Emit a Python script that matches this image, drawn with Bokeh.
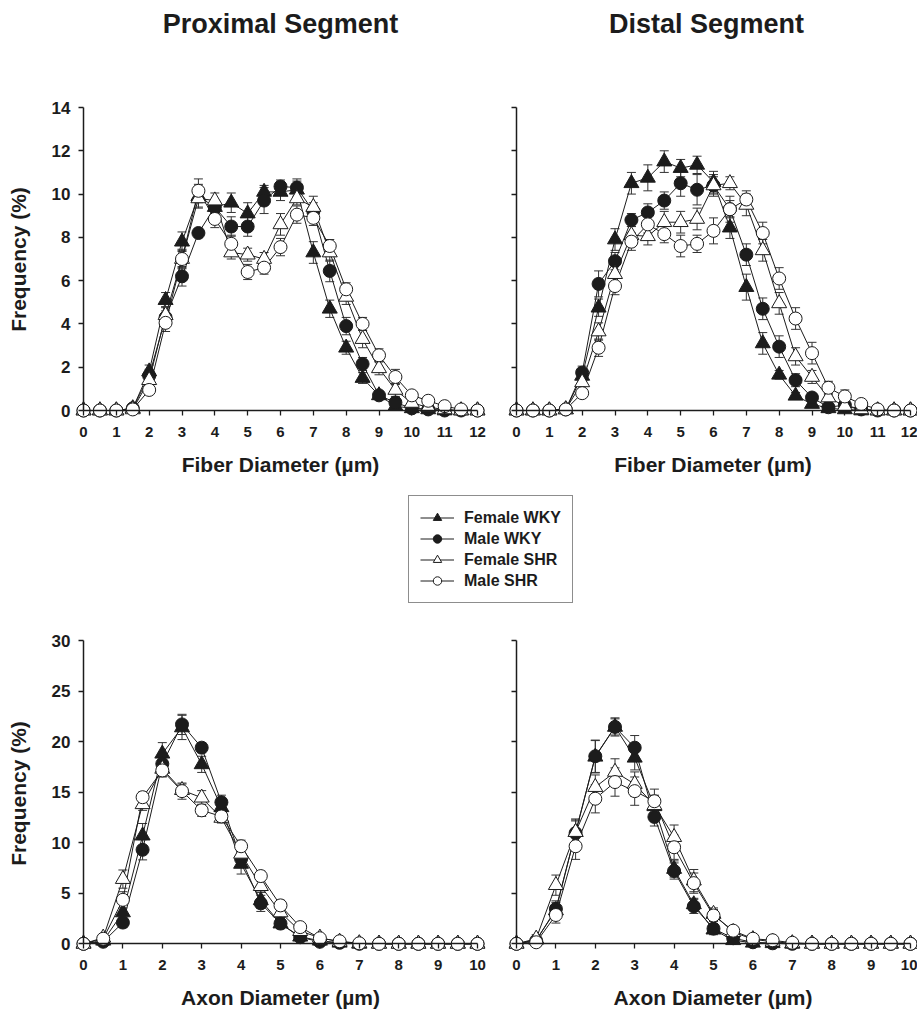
from bokeh.plotting import figure
from bokeh.layouts import column, row
from bokeh.models import LinearAxis, FixedTicker, Range1d, Legend, LegendItem
from bokeh.embed import file_html
from bokeh.resources import INLINE
from bokeh.core.properties import value

# ---------------- data ----------------
titles = ["Proximal Segment", "Distal Segment"]
series_names = ["Female WKY", "Male WKY", "Female SHR", "Male SHR"]
y_label = "Frequency (%)"
fiber_label = "Fiber Diameter (\u00b5m)"
axon_label = "Axon Diameter (\u00b5m)"

fiber_x = [0, 0.5, 1, 1.5, 2, 2.5, 3, 3.5, 4, 4.5, 5, 5.5, 6, 6.5, 7, 7.5, 8, 8.5, 9, 9.5, 10, 10.5, 11, 11.5, 12]
axon_x = [0, 0.5, 1, 1.5, 2, 2.5, 3, 3.5, 4, 4.5, 5, 5.5, 6, 6.5, 7, 7.5, 8, 8.5, 9, 9.5, 10]

fiber_xticks = [0, 1, 2, 3, 4, 5, 6, 7, 8, 9, 10, 11, 12]
fiber_yticks = [0, 2, 4, 6, 8, 10, 12, 14]
axon_xticks = [0, 1, 2, 3, 4, 5, 6, 7, 8, 9, 10]
axon_yticks = [0, 5, 10, 15, 20, 25, 30]

# Proximal fiber
prox_fiber_fwky = [0, 0, 0, 0.1, 1.8, 5.1, 7.8, 9.9, 9.4, 9.6, 9.1, 10.1, 10.1, 10.2, 7.3, 4.7, 2.9, 1.5, 0.7, 0.2, 0.1, 0.05, 0, 0, 0]
prox_fiber_mwky = [0, 0, 0, 0.1, 1.6, 4.3, 6.2, 8.2, 9.4, 8.5, 8.5, 9.7, 10.35, 10.3, 9.2, 6.45, 3.9, 2.15, 0.7, 0.37, 0.1, 0.05, 0, 0, 0]
prox_fiber_fshr = [0, 0, 0, 0.05, 1.4, 4.4, 7.0, 9.8, 9.7, 7.3, 7.2, 7.0, 8.6, 9.8, 9.4, 7.3, 5.25, 3.3, 1.95, 0.95, 0.35, 0.15, 0.05, 0, 0]
prox_fiber_mshr = [0, 0, 0, 0.05, 0.95, 4.05, 7.0, 10.15, 8.85, 7.7, 6.4, 6.6, 7.55, 9.05, 8.9, 7.6, 5.6, 4.0, 2.55, 1.55, 0.7, 0.45, 0.2, 0.05, 0]
prox_fiber_fwky_err = [0, 0, 0, 0.05, 0.3, 0.35, 0.45, 0.55, 0.3, 0.45, 0.5, 0.3, 0.4, 0.4, 0.5, 0.4, 0.3, 0.25, 0.15, 0.1, 0.05, 0.05, 0, 0, 0]
prox_fiber_mwky_err = [0, 0, 0, 0.05, 0.3, 0.3, 0.45, 0.2, 0.25, 0.45, 0.45, 0.6, 0.3, 0.4, 0.4, 0.5, 0.4, 0.3, 0.15, 0.1, 0.05, 0.05, 0, 0, 0]
prox_fiber_fshr_err = [0, 0, 0, 0.05, 0.2, 0.4, 0.4, 0.4, 0.35, 0.3, 0.3, 0.3, 0.5, 0.3, 0.5, 0.4, 0.35, 0.4, 0.3, 0.3, 0.1, 0.05, 0.05, 0, 0]
prox_fiber_mshr_err = [0, 0, 0, 0.05, 0.2, 0.4, 0.45, 0.55, 0.4, 0.4, 0.35, 0.3, 0.4, 0.4, 0.35, 0.3, 0.3, 0.3, 0.3, 0.35, 0.1, 0.05, 0.05, 0, 0]

# Distal fiber
dist_fiber_fwky = [0, 0, 0, 0.05, 1.6, 4.75, 7.9, 10.5, 10.75, 11.5, 11.2, 11.35, 10.55, 8.45, 5.7, 3.1, 1.65, 0.68, 0.3, 0.1, 0.05, 0, 0, 0, 0]
dist_fiber_mwky = [0, 0, 0, 0.05, 1.75, 5.85, 6.9, 8.8, 9.15, 9.7, 10.5, 10.2, 10.4, 9.3, 7.2, 4.7, 2.95, 1.4, 0.6, 0.15, 0.25, 0.05, 0, 0, 0]
dist_fiber_fshr = [0, 0, 0, 0.05, 1.3, 3.65, 6.3, 8.1, 8.05, 8.7, 8.7, 8.85, 10.4, 10.5, 9.5, 7.4, 4.95, 2.5, 1.55, 0.6, 0.2, 0.05, 0, 0, 0]
dist_fiber_mshr = [0, 0, 0, 0.05, 0.8, 2.9, 5.75, 7.8, 8.6, 8.15, 7.6, 7.7, 8.3, 9.3, 9.75, 8.2, 6.1, 4.25, 2.65, 1.05, 0.65, 0.3, 0.05, 0, 0]
dist_fiber_fwky_err = [0, 0, 0, 0.05, 0.3, 0.4, 0.5, 0.5, 0.6, 0.5, 0.4, 0.4, 0.5, 0.5, 0.6, 0.5, 0.2, 0.15, 0.1, 0.05, 0.05, 0, 0, 0, 0]
dist_fiber_mwky_err = [0, 0, 0, 0.05, 0.3, 0.6, 0.4, 0.3, 0.4, 0.4, 0.6, 0.7, 0.4, 0.4, 0.5, 0.5, 0.5, 0.3, 0.2, 0.1, 0.2, 0.05, 0, 0, 0]
dist_fiber_fshr_err = [0, 0, 0, 0.05, 0.3, 0.4, 0.4, 0.4, 0.4, 0.5, 0.5, 0.5, 0.5, 0.3, 0.5, 0.5, 0.5, 0.4, 0.3, 0.2, 0.1, 0.05, 0, 0, 0]
dist_fiber_mshr_err = [0, 0, 0, 0.05, 0.2, 0.4, 0.4, 0.4, 0.4, 0.4, 0.5, 0.4, 0.6, 0.6, 0.4, 0.5, 0.5, 0.5, 0.5, 0.3, 0.3, 0.1, 0.05, 0, 0]

# Proximal axon
prox_axon_fwky = [0, 0.3, 3.1, 10.7, 18.8, 21.4, 17.75, 13.5, 7.9, 4.3, 2.0, 0.7, 0.3, 0.1, 0, 0, 0, 0, 0, 0, 0]
prox_axon_mwky = [0, 0.2, 2.1, 9.3, 17.8, 21.7, 19.4, 14.0, 8.4, 4.0, 2.0, 0.65, 0.2, 0.1, 0, 0, 0, 0, 0, 0, 0]
prox_axon_fshr = [0, 0.6, 6.4, 13.8, 17.3, 15.2, 14.45, 12.45, 8.9, 5.7, 3.1, 1.25, 0.6, 0.2, 0.05, 0, 0, 0, 0, 0, 0]
prox_axon_mshr = [0, 0.5, 4.35, 14.5, 17.15, 15.1, 13.2, 12.6, 9.65, 6.7, 3.8, 1.65, 0.55, 0.25, 0.05, 0, 0, 0, 0, 0, 0]
prox_axon_fwky_err = [0, 0.3, 0.8, 1.2, 1.1, 1.2, 0.8, 0.8, 1.0, 0.8, 0.5, 0.3, 0.1, 0.05, 0, 0, 0, 0, 0, 0, 0]
prox_axon_mwky_err = [0, 0.2, 0.5, 1.0, 0.8, 1.0, 0.5, 0.7, 0.8, 0.8, 0.5, 0.3, 0.1, 0.05, 0, 0, 0, 0, 0, 0, 0]
prox_axon_fshr_err = [0, 0.3, 0.9, 0.6, 0.8, 0.6, 0.7, 0.5, 0.7, 0.6, 0.5, 0.3, 0.2, 0.1, 0, 0, 0, 0, 0, 0, 0]
prox_axon_mshr_err = [0, 0.3, 0.8, 0.5, 0.6, 0.8, 0.6, 0.6, 0.6, 0.5, 0.5, 0.3, 0.2, 0.1, 0, 0, 0, 0, 0, 0, 0]

# Distal axon
dist_axon_fwky = [0, 0.4, 3.3, 11.05, 18.5, 21.45, 18.4, 13.6, 7.4, 3.9, 1.4, 0.35, 0.1, 0.05, 0, 0, 0, 0, 0, 0, 0]
dist_axon_mwky = [0, 0.3, 3.45, 10.95, 18.55, 21.45, 19.4, 12.55, 7.2, 3.7, 1.5, 0.55, 0.15, 0.05, 0, 0, 0, 0, 0, 0, 0]
dist_axon_fshr = [0, 0.5, 5.8, 11.05, 15.5, 17.0, 15.8, 13.7, 10.55, 6.25, 2.95, 1.15, 0.45, 0.2, 0.05, 0, 0, 0, 0, 0, 0]
dist_axon_mshr = [0, 0.15, 2.85, 9.65, 14.35, 16.0, 15.1, 14.1, 9.55, 6.0, 2.8, 1.3, 0.5, 0.35, 0.1, 0, 0, 0, 0, 0, 0]
dist_axon_fwky_err = [0, 0.3, 0.8, 1.3, 1.6, 0.8, 1.2, 1.0, 0.8, 0.6, 0.5, 0.2, 0.1, 0, 0, 0, 0, 0, 0, 0, 0]
dist_axon_mwky_err = [0, 0.3, 0.8, 1.2, 1.6, 0.9, 1.2, 0.9, 0.8, 0.7, 0.5, 0.2, 0.1, 0, 0, 0, 0, 0, 0, 0, 0]
dist_axon_fshr_err = [0, 0.4, 1.0, 1.2, 1.2, 1.3, 1.2, 1.0, 1.2, 1.1, 0.6, 0.3, 0.2, 0.1, 0, 0, 0, 0, 0, 0, 0]
dist_axon_mshr_err = [0, 0.3, 0.8, 1.3, 1.4, 1.4, 1.4, 1.2, 1.2, 1.0, 0.6, 0.3, 0.2, 0.1, 0, 0, 0, 0, 0, 0, 0]

# ---------------- styling ----------------
FONT = "Liberation Sans"
INK = "#1c1c1c"
MARKERS = ["triangle", "circle", "triangle", "circle"]
FILLS = [INK, INK, "white", "white"]
SIZES = [15, 13, 15, 13]


def text_style(ax, tick_size):
    ax.major_label_text_font = FONT
    ax.major_label_text_font_style = "bold"
    ax.major_label_text_font_size = tick_size
    ax.major_label_text_color = INK
    ax.axis_label_text_font = FONT
    ax.axis_label_text_font_style = "bold"
    ax.axis_label_text_font_size = "21px"
    ax.axis_label_text_color = INK


def line_axis(ticks):
    # axis line and ticks drawn at data value 0
    ax = LinearAxis(ticker=FixedTicker(ticks=ticks), fixed_location=0,
                    bounds=(ticks[0], ticks[-1]))
    ax.axis_line_color = INK
    ax.axis_line_width = 1.5
    ax.major_tick_line_color = INK
    ax.major_tick_line_width = 1.3
    ax.major_tick_in = 0
    ax.major_tick_out = 5
    ax.minor_tick_line_color = None
    ax.major_label_overrides = {t: "" for t in ticks}
    return ax


def label_axis(ticks, label, tick_size, standoff, label_standoff, show_labels):
    # tick labels and axis title, placed at the frame edge
    ax = LinearAxis(ticker=FixedTicker(ticks=ticks), bounds=(ticks[0], ticks[-1]),
                    axis_label=label)
    ax.axis_line_color = None
    ax.major_tick_line_color = None
    ax.minor_tick_line_color = None
    ax.major_tick_in = 0
    ax.major_tick_out = 0
    ax.major_label_standoff = standoff
    ax.axis_label_standoff = label_standoff
    text_style(ax, tick_size)
    if not show_labels:
        ax.major_label_overrides = {t: "" for t in ticks}
    return ax


def panel(xs, ys_list, errs_list, width, height, bl, br, bt, bb,
          x0_px, x_ppu, y0_px, y_ppu, xticks, yticks, xlabel, ylabel, show_ylabels):
    frame_w = width - bl - br
    frame_h = height - bt - bb
    xs0 = -x0_px / x_ppu
    ys0 = -y0_px / y_ppu
    p = figure(width=width, height=height,
               x_range=Range1d(xs0, xs0 + frame_w / x_ppu),
               y_range=Range1d(ys0, ys0 + frame_h / y_ppu),
               x_axis_location=None, y_axis_location=None,
               toolbar_location=None, output_backend="svg",
               min_border_left=bl, min_border_right=br,
               min_border_top=bt, min_border_bottom=bb)
    p.outline_line_color = None
    for g in p.grid:
        g.visible = False

    p.add_layout(label_axis(xticks, xlabel, "15px", 8, 13, True), "below")
    p.add_layout(label_axis(yticks, ylabel if show_ylabels else None, "17px", 5, 19, show_ylabels), "left")
    p.add_layout(line_axis(xticks), "below")
    p.add_layout(line_axis(yticks), "left")

    # error bars and connecting lines
    for ys, es in zip(ys_list, errs_list):
        ex = [x for x, e in zip(xs, es) if e > 0]
        hi = [y + e for y, e in zip(ys, es) if e > 0]
        lo = [max(y - e, 0) for y, e in zip(ys, es) if e > 0]
        p.segment(x0=ex, y0=lo, x1=ex, y1=hi, line_color="#333333", line_width=1)
        p.scatter(ex, hi, marker="dash", size=9, line_color="#333333", line_width=1)
        p.scatter(ex, lo, marker="dash", size=9, line_color="#333333", line_width=1)
        p.line(xs, ys, line_color=INK, line_width=1)
    for ys, m, f, s in zip(ys_list, MARKERS, FILLS, SIZES):
        p.scatter(xs, ys, marker=m, size=s, fill_color=f, line_color=INK, line_width=1)
    return p


X_PPU_F = 394 / 12.0
X_PPU_A = 394 / 10.0
Y_PPU_F = 303 / 14.0
Y_PPU_A = 303.3 / 30.0

tl = panel(fiber_x, [prox_fiber_fwky, prox_fiber_mwky, prox_fiber_fshr, prox_fiber_mshr],
           [prox_fiber_fwky_err, prox_fiber_mwky_err, prox_fiber_fshr_err, prox_fiber_mshr_err],
           496, 430, 75, 11, 40, 72, 8, X_PPU_F, 8, Y_PPU_F,
           fiber_xticks, fiber_yticks, fiber_label, y_label, True)
tr = panel(fiber_x, [dist_fiber_fwky, dist_fiber_mwky, dist_fiber_fshr, dist_fiber_mshr],
           [dist_fiber_fwky_err, dist_fiber_mwky_err, dist_fiber_fshr_err, dist_fiber_mshr_err],
           421, 430, 12, 0, 40, 72, 8, X_PPU_F, 8, Y_PPU_F,
           fiber_xticks, fiber_yticks, fiber_label, y_label, False)
bl = panel(axon_x, [prox_axon_fwky, prox_axon_mwky, prox_axon_fshr, prox_axon_mshr],
           [prox_axon_fwky_err, prox_axon_mwky_err, prox_axon_fshr_err, prox_axon_mshr_err],
           496, 394, 75, 11, 15, 63, 8, X_PPU_A, 7.7, Y_PPU_A,
           axon_xticks, axon_yticks, axon_label, y_label, True)
br = panel(axon_x, [dist_axon_fwky, dist_axon_mwky, dist_axon_fshr, dist_axon_mshr],
           [dist_axon_fwky_err, dist_axon_mwky_err, dist_axon_fshr_err, dist_axon_mshr_err],
           421, 394, 12, 0, 15, 63, 8, X_PPU_A, 7.7, Y_PPU_A,
           axon_xticks, axon_yticks, axon_label, y_label, False)

# header with panel titles
TOTAL_W = 917
HEADER_H = 60
header = figure(width=TOTAL_W, height=HEADER_H, x_range=Range1d(0, TOTAL_W), y_range=Range1d(0, HEADER_H),
                x_axis_location=None, y_axis_location=None, toolbar_location=None,
                output_backend="svg", min_border=0, min_border_left=0, min_border_right=0,
                min_border_top=0, min_border_bottom=0)
header.outline_line_color = None
for g in header.grid:
    g.visible = False
header.text(x=[280, 706], y=[HEADER_H - 23, HEADER_H - 23], text=titles, text_font=value(FONT),
            text_font_style="bold", text_font_size="27px", text_color=INK,
            text_align="center", text_baseline="middle")

# middle strip holding the legend
mid = figure(width=TOTAL_W, height=130, x_range=Range1d(0, 1), y_range=Range1d(0, 1),
             x_axis_location=None, y_axis_location=None, toolbar_location=None,
             output_backend="svg", min_border=0, min_border_left=0, min_border_right=0,
             min_border_top=0, min_border_bottom=0)
mid.outline_line_color = None
for g in mid.grid:
    g.visible = False
items = []
for name, m, f in zip(series_names, MARKERS, FILLS):
    # legend sample renderers, kept outside the visible range of this strip
    lr = mid.line([-5, -4], [-5, -5], line_color=INK, line_width=1)
    sr = mid.scatter([-5], [-5], marker=m, fill_color=f, line_color=INK, line_width=1)
    items.append(LegendItem(label=name, renderers=[lr, sr]))
legend = Legend(items=items, location=(408, 17), orientation="vertical",
                border_line_color=INK, border_line_width=1, background_fill_color="white",
                padding=11, spacing=0, margin=0, glyph_width=34, glyph_height=21,
                label_height=21, label_standoff=10,
                label_text_font=FONT, label_text_font_style="bold",
                label_text_font_size="16px", label_text_color=INK)
mid.add_layout(legend)

layout = column(header, row(tl, tr), mid, row(bl, br))
open("out.html", "w").write(file_html(layout, INLINE))
